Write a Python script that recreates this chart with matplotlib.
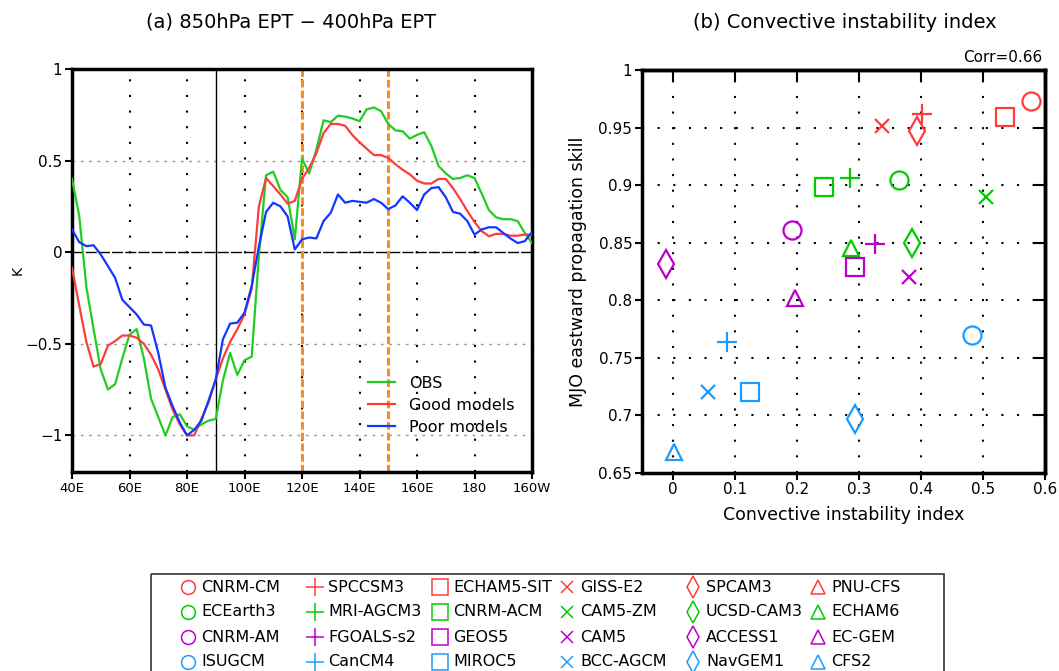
import numpy as np
import matplotlib
matplotlib.use("Agg")
import matplotlib.pyplot as plt
from matplotlib.patches import Rectangle

plt.rcParams['font.family'] = ['DejaVu Sans']

# ---------------- Panel (a) data ----------------
lon = np.arange(40, 200.1, 2.5)
obs = [0.40, 0.20, -0.19, -0.42, -0.64, -0.75, -0.72, -0.58, -0.45, -0.42,
       -0.58, -0.80, -0.90, -1.00, -0.90, -0.885, -0.95, -0.97, -0.94, -0.92,
       -0.91, -0.70, -0.55, -0.67, -0.59, -0.57, -0.02, 0.42, 0.44, 0.34,
       0.30, 0.07, 0.51, 0.43, 0.56, 0.72, 0.71, 0.745, 0.74, 0.73,
       0.715, 0.78, 0.79, 0.77, 0.70, 0.665, 0.66, 0.62, 0.64, 0.655,
       0.58, 0.47, 0.43, 0.40, 0.405, 0.42, 0.405, 0.32, 0.23, 0.19,
       0.18, 0.18, 0.17, 0.105, 0.05]
good = [-0.085, -0.29, -0.49, -0.625, -0.61, -0.51, -0.485, -0.455, -0.455, -0.467,
        -0.50, -0.56, -0.64, -0.75, -0.86, -0.94, -1.0, -1.0, -0.91, -0.82,
        -0.695, -0.58, -0.49, -0.42, -0.34, -0.20, 0.25, 0.405, 0.36, 0.315,
        0.265, 0.28, 0.40, 0.46, 0.54, 0.65, 0.70, 0.70, 0.69, 0.64,
        0.60, 0.565, 0.53, 0.53, 0.515, 0.48, 0.45, 0.425, 0.39, 0.375,
        0.375, 0.40, 0.40, 0.35, 0.29, 0.225, 0.165, 0.115, 0.087, 0.10,
        0.10, 0.09, 0.09, 0.096, 0.096]
poor = [0.125, 0.055, 0.033, 0.038, -0.013, -0.076, -0.14, -0.26, -0.30, -0.34,
        -0.395, -0.40, -0.55, -0.74, -0.84, -0.93, -1.0, -0.97, -0.92, -0.81,
        -0.695, -0.475, -0.39, -0.385, -0.33, -0.185, 0.03, 0.22, 0.27, 0.25,
        0.195, 0.015, 0.07, 0.08, 0.075, 0.17, 0.215, 0.315, 0.27, 0.28,
        0.275, 0.27, 0.29, 0.27, 0.235, 0.255, 0.305, 0.27, 0.23, 0.315,
        0.35, 0.355, 0.30, 0.22, 0.21, 0.17, 0.096, 0.124, 0.136, 0.136,
        0.105, 0.075, 0.05, 0.06, 0.11]
lon_ticks = [40, 60, 80, 100, 120, 140, 160, 180, 200]
lon_labels = ["40E", "60E", "80E", "100E", "120E", "140E", "160E", "180", "160W"]
line_names = ["OBS", "Good models", "Poor models"]

# ---------------- Panel (b) data ----------------
models = [["CNRM-CM", "SPCCSM3", "ECHAM5-SIT", "GISS-E2", "SPCAM3", "PNU-CFS"],
          ["ECEarth3", "MRI-AGCM3", "CNRM-ACM", "CAM5-ZM", "UCSD-CAM3", "ECHAM6"],
          ["CNRM-AM", "FGOALS-s2", "GEOS5", "CAM5", "ACCESS1", "EC-GEM"],
          ["ISUGCM", "CanCM4", "MIROC5", "BCC-AGCM", "NavGEM1", "CFS2"]]
cii = [[0.577, 0.401, 0.5355, 0.337, 0.393, np.nan],
       [0.364, 0.286, 0.243, 0.505, 0.386, 0.287],
       [0.192, 0.326, 0.293, 0.380, -0.012, 0.197],
       [0.483, 0.087, 0.124, 0.0565, 0.293, 0.001]]
skill = [[0.973, 0.962, 0.959, 0.951, 0.947, np.nan],
         [0.904, 0.906, 0.898, 0.890, 0.850, 0.845],
         [0.861, 0.849, 0.829, 0.820, 0.831, 0.802],
         [0.770, 0.764, 0.720, 0.720, 0.697, 0.668]]
corr_text = "Corr=0.66"

row_colors = ["#ff3c3c", "#00cc00", "#bb00c8", "#1a9cff"]
col_markers = ["o", "+", "s", "x", "d", "^"]
col_msize = [13, 14, 13, 10, 14, 11]

W, H = 1059, 671
fig = plt.figure(figsize=(W / 100, H / 100), dpi=100)

def fbox(l, t, r, b):
    return [l / W, 1 - b / H, (r - l) / W, (b - t) / H]

DOT = (0, (1.0, 6.5))

# ---------------- Panel (a) ----------------
ax1 = fig.add_axes(fbox(72, 69, 532, 472))
ax1.set_xlim(40, 200)
ax1.set_ylim(-1.2, 1.0)
for v in [60, 80, 100, 120, 140, 160, 180]:
    ax1.axvline(v, color="black", lw=1.5, ls=DOT, zorder=1)
for h in [-1, -0.5, 0.5, 1]:
    ax1.axhline(h, color="#999999", lw=1.0, ls=(0, (2, 4)), zorder=1)
ax1.axhline(0, color="black", lw=1.0, ls=(0, (8, 1.5)), zorder=1)
ax1.axvline(90, color="black", lw=1.0, zorder=1)
for v in [120, 150]:
    ax1.axvline(v, color="#ff8c1a", lw=2.2, ls=(0, (2.5, 1)), zorder=2)
l1, = ax1.plot(lon, obs, color="#22cc22", lw=1.6, zorder=3)
l2, = ax1.plot(lon, good, color="#ff3c3c", lw=1.6, zorder=3)
l3, = ax1.plot(lon, poor, color="#1038ff", lw=1.6, zorder=4)
ax1.legend([l1, l2, l3], line_names, loc="upper left",
           bbox_to_anchor=(0.612, 0.275), frameon=False, fontsize=11.5,
           handlelength=1.7, handletextpad=0.9, labelspacing=0.45)
ax1.set_xticks(lon_ticks)
ax1.set_xticklabels(lon_labels, fontsize=9.5)
ax1.set_yticks([-1, -0.5, 0, 0.5, 1])
ax1.set_yticklabels(["\u22121", "\u22120.5", "0", "0.5", "1"], fontsize=11)
ax1.tick_params(direction="out", length=5, width=1.5, pad=2)
for s in ax1.spines.values():
    s.set_linewidth(2.5)
fig.text(18 / W, 1 - 270 / H, "K", rotation=90, ha="center", va="center", fontsize=10)

# ---------------- Panel (b) ----------------
ax2 = fig.add_axes(fbox(642, 70, 1045, 472.7))
ax2.set_xlim(-0.05, 0.6)
ax2.set_ylim(0.65, 1.0)
xt = [0, 0.1, 0.2, 0.3, 0.4, 0.5, 0.6]
yt = [0.65, 0.7, 0.75, 0.8, 0.85, 0.9, 0.95, 1.0]
for v in xt[:-1]:
    ax2.axvline(v, color="black", lw=1.5, ls=DOT, zorder=1)
for h in yt[1:-1]:
    ax2.axhline(h, color="black", lw=1.5, ls=DOT, zorder=1)
for r in range(4):
    for c in range(6):
        ax2.plot(cii[r][c], skill[r][c], marker=col_markers[c], ms=col_msize[c],
                 mfc="none", mec=row_colors[r], mew=1.6, ls="none", zorder=3)
ax2.set_xticks(xt)
ax2.set_xticklabels(["0", "0.1", "0.2", "0.3", "0.4", "0.5", "0.6"], fontsize=11)
ax2.set_yticks(yt)
ax2.set_yticklabels(["0.65", "0.7", "0.75", "0.8", "0.85", "0.9", "0.95", "1"], fontsize=11)
ax2.tick_params(direction="out", length=5, width=1.5, pad=2)
for s in ax2.spines.values():
    s.set_linewidth(2.5)
ax2.set_xlabel("Convective instability index", fontsize=12.5, labelpad=6)
ax2.set_ylabel("MJO eastward propagation skill", fontsize=12.5, labelpad=8)
# inward ticks on the top and right sides
topax = ax2.secondary_xaxis("top")
topax.set_xticks(xt)
topax.tick_params(direction="in", length=8, width=1.5, labeltop=False)
topax.spines["top"].set_linewidth(2.5)
rax = ax2.secondary_yaxis("right")
rax.set_yticks(yt)
rax.tick_params(direction="in", length=8, width=1.5, labelright=False)
rax.spines["right"].set_linewidth(2.5)

# titles
fig.text(291 / W, 1 - 22 / H, "(a) 850hPa EPT \u2212 400hPa EPT", ha="center",
         va="center", fontsize=14)
fig.text(845 / W, 1 - 22 / H, "(b) Convective instability index", ha="center",
         va="center", fontsize=14)
fig.text(1042 / W, 1 - 57 / H, corr_text, ha="right", va="center", fontsize=11)

# ---------------- Bottom legend ----------------
lax = fig.add_axes([0, 0, 1, 1], zorder=-1)
lax.set_xlim(0, W)
lax.set_ylim(H, 0)
lax.axis("off")
lax.add_patch(Rectangle((151, 574), 793, 120, fill=False, lw=1.2, ec="#333333"))
col_x = [188, 315, 440, 567, 693, 818]
row_y = [587, 612, 637, 662]
leg_ms = [10, 13, 11, 9, 11, 10]
for r in range(4):
    for c in range(6):
        lax.plot(col_x[c], row_y[r], marker=col_markers[c], ms=leg_ms[c], mfc="none",
                 mec=row_colors[r], mew=1.1, ls="none")
        lax.text(col_x[c] + 13, row_y[r], models[r][c], ha="left", va="center",
                 fontsize=11.5)

fig.savefig("out.png", dpi=100)
